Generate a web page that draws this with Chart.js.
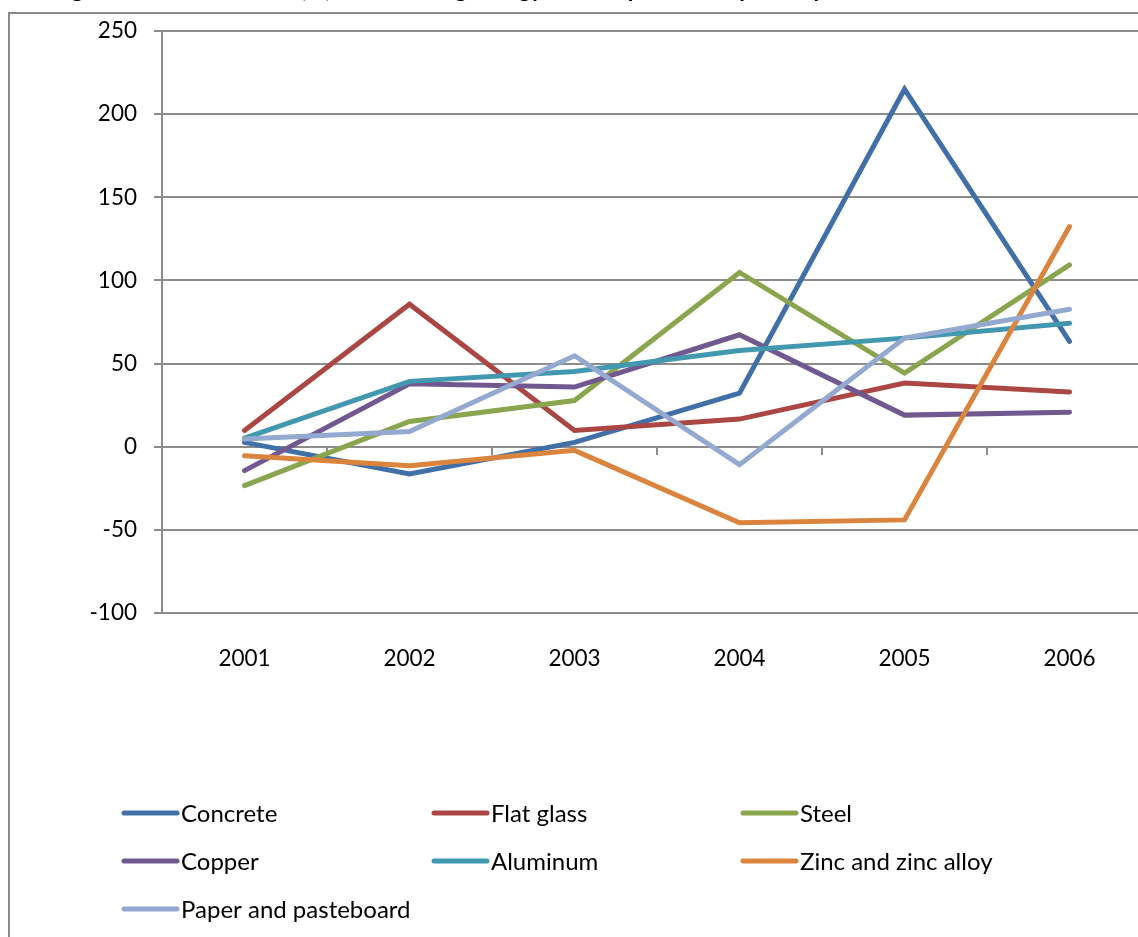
<!DOCTYPE html>
<html>
<head>
<meta charset="utf-8">
<script src="https://cdn.jsdelivr.net/npm/chart.js@4"></script>
<style>
  html, body { margin: 0; padding: 0; background: #fff; overflow: hidden; }
  body { width: 1138px; height: 937px; position: relative; }
  #frame {
    position: absolute; left: 8px; top: 12px; width: 1300px; height: 1100px;
    border: 2px solid #8a8a8a; box-sizing: border-box;
  }
  #chart { position: absolute; left: 0; top: 0; }
</style>
</head>
<body>
<div id="frame"></div>
<canvas id="chart" width="1200" height="937"></canvas>
<script>
// Years on the category axis
const years = ['2001', '2002', '2003', '2004', '2005', '2006'];

// Growth rate (%) per material
const concrete = [2.6, -16.4, 2.6, 32.2, 215.0, 63.3];
const flatGlass = [9.8, 85.7, 9.8, 16.6, 38.3, 32.9];
const steel = [-23.4, 15.2, 27.8, 104.8, 44.3, 109.4];
const copper = [-14.4, 37.9, 35.9, 67.3, 19.0, 20.8];
const aluminum = [5.2, 39.3, 45.3, 57.9, 65.3, 74.3];
const zinc = [-5.4, -11.4, -2.2, -45.7, -44.0, 132.4];
const paper = [4.6, 9.2, 54.7, -10.8, 65.3, 82.7];

const seriesNames = ['Concrete', 'Flat glass', 'Steel', 'Copper', 'Aluminum', 'Zinc and zinc alloy', 'Paper and pasteboard'];
const seriesValues = [concrete, flatGlass, steel, copper, aluminum, zinc, paper];
const seriesColors = ['#4170a8', '#aa4643', '#89a54e', '#71588f', '#4198af', '#db843d', '#93a9cf'];

// Y axis range
const yMin = -100, yMax = 250, yStep = 50;

const titleText = 'Figure 3 The annual rate(%) of increasing energy consumption of imported parts';

const FONT = 'Lato, "Open Sans", sans-serif';
const GRID = '#8c8c8c';

// Legend in three fixed columns under the plot
const legendPlugin = {
  id: 'columnLegend',
  afterDraw(chart) {
    const ctx = chart.ctx;
    const cols = [122, 432, 741];
    const rows = [813, 861, 909];
    ctx.save();
    ctx.font = '24px ' + FONT;
    ctx.textBaseline = 'middle';
    ctx.textAlign = 'left';
    chart.data.datasets.forEach((ds, i) => {
      const x = cols[i % 3];
      const y = rows[Math.floor(i / 3)];
      ctx.strokeStyle = ds.borderColor;
      ctx.lineWidth = 5;
      ctx.lineCap = 'round';
      ctx.beginPath();
      ctx.moveTo(x + 2, y);
      ctx.lineTo(x + 55, y);
      ctx.stroke();
      ctx.fillStyle = '#000';
      ctx.fillText(ds.label, x + 59, y + 1);
    });
    ctx.restore();
  }
};

// Title line above the frame
const titlePlugin = {
  id: 'topTitle',
  afterDraw(chart) {
    const ctx = chart.ctx;
    ctx.save();
    ctx.font = 'bold 23px ' + FONT;
    ctx.fillStyle = '#000';
    ctx.textBaseline = 'alphabetic';
    const prefix = titleText.slice(0, titleText.indexOf('('));
    const x0 = 300 - ctx.measureText(prefix).width;
    ctx.fillText(titleText, x0, -3);
    ctx.restore();
  }
};

new Chart(document.getElementById('chart'), {
  type: 'line',
  data: {
    labels: years,
    datasets: seriesNames.map((name, i) => ({
      label: name,
      data: seriesValues[i],
      borderColor: seriesColors[i],
      backgroundColor: seriesColors[i],
      borderWidth: 5,
      borderCapStyle: 'round',
      borderJoinStyle: 'miter',
      pointRadius: 0,
      tension: 0,
      fill: false,
      order: seriesNames.length - i
    }))
  },
  options: {
    responsive: false,
    animation: false,
    devicePixelRatio: 1,
    layout: { padding: { top: 31, right: 48, left: 0, bottom: 0 } },
    plugins: { legend: { display: false }, tooltip: { enabled: false }, title: { display: false } },
    scales: {
      x: {
        type: 'category',
        position: 'bottom',
        offset: true,
        grid: { display: false },
        border: { display: false },
        ticks: { color: '#000', font: { family: FONT, size: 22.5 }, padding: 24, maxRotation: 0 },
        afterFit(scale) { scale.height = 324; }
      },
      x2: {
        type: 'category',
        position: { y: 0 },
        offset: true,
        grid: { display: true, drawOnChartArea: false, drawTicks: true, tickLength: 8, offset: true, color: GRID, lineWidth: 2 },
        border: { display: false },
        ticks: { display: false }
      },
      y: {
        min: yMin,
        max: yMax,
        ticks: { stepSize: yStep, color: '#000', font: { family: FONT, size: 22.5 }, padding: 17 },
        grid: { color: GRID, lineWidth: 2, tickLength: 8, drawTicks: true },
        border: { display: true, color: GRID, width: 2 },
        afterFit(scale) { scale.width = 162; }
      }
    }
  },
  plugins: [legendPlugin, titlePlugin]
});
</script>
</body>
</html>
